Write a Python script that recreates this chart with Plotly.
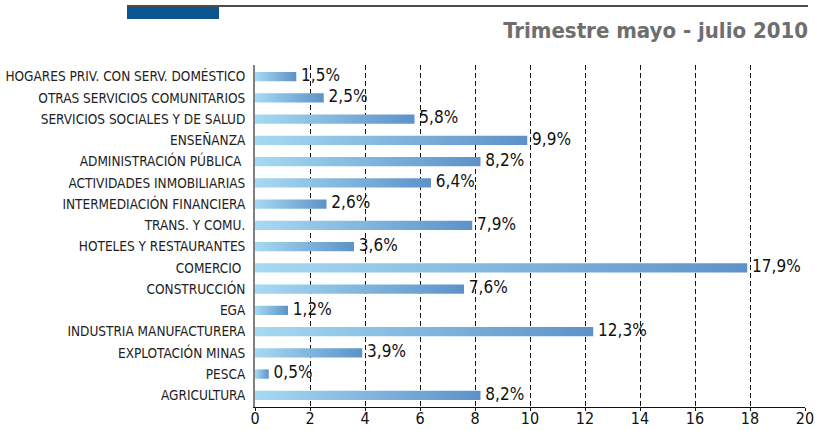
import plotly.graph_objects as go

categories = [
    "HOGARES PRIV. CON SERV. DOMÉSTICO",
    "OTRAS SERVICIOS COMUNITARIOS",
    "SERVICIOS SOCIALES Y DE SALUD",
    "ENSEÑANZA",
    "ADMINISTRACIÓN PÚBLICA\u00a0",
    "ACTIVIDADES INMOBILIARIAS",
    "INTERMEDIACIÓN FINANCIERA",
    "TRANS. Y COMU.",
    "HOTELES Y RESTAURANTES",
    "COMERCIO\u00a0",
    "CONSTRUCCIÓN",
    "EGA",
    "INDUSTRIA MANUFACTURERA",
    "EXPLOTACIÓN MINAS",
    "PESCA",
    "AGRICULTURA",
]
values = [1.5, 2.5, 5.8, 9.9, 8.2, 6.4, 2.6, 7.9, 3.6, 17.9, 7.6, 1.2, 12.3, 3.9, 0.5, 8.2]
x_ticks = [0, 2, 4, 6, 8, 10, 12, 14, 16, 18, 20]
title_text = "Trimestre mayo - julio 2010"

FONT = "DejaVu Sans Condensed, Liberation Sans Narrow, sans-serif"
n = len(categories)
ypos = [n - 1 - i for i in range(n)]
half = 0.22

fig = go.Figure()
for v, y in zip(values, ypos):
    fig.add_trace(go.Scatter(
        x=[0, v, v, 0, 0],
        y=[y - half, y - half, y + half, y + half, y - half],
        mode="lines",
        line=dict(width=0),
        fill="toself",
        fillgradient=dict(type="horizontal",
                          colorscale=[[0, "#a6daf2"], [1, "#5d92c9"]]),
        hoverinfo="skip",
        showlegend=False,
    ))

labels = ["\u00a0" + f"{v:.1f}".replace(".", ",") + "%" for v in values]
fig.add_trace(go.Scatter(
    x=values, y=ypos, mode="text", text=labels,
    textposition="middle right",
    textfont=dict(family=FONT, size=17, color="#111111"),
    showlegend=False, hoverinfo="skip", cliponaxis=False,
))

fig.update_layout(
    width=815, height=430,
    margin=dict(l=255, r=10, t=65, b=23, autoexpand=False),
    paper_bgcolor="white", plot_bgcolor="white",
    title=dict(text=f"<b>{title_text}</b>", x=808 / 815, xanchor="right",
               y=1 - 30 / 430, yanchor="middle",
               font=dict(family=FONT, size=22, color="#6e6e6e")),
    xaxis=dict(range=[0, 20], tickvals=x_ticks, ticktext=[str(t) for t in x_ticks],
               showgrid=True, gridcolor="#111111", gridwidth=1, griddash="5px,3px",
               showline=True, linecolor="#111111", linewidth=1,
               ticks="outside", ticklen=3, tickcolor="#111111",
               ticklabelstandoff=-6,
               tickfont=dict(family=FONT, size=16, color="#111111"),
               zeroline=False, fixedrange=True, automargin=False),
    yaxis=dict(range=[-0.55, n - 0.45], tickvals=ypos, ticktext=categories,
               showgrid=False, zeroline=False,
               showline=True, linecolor="#808080", linewidth=2,
               ticks="", ticklabelstandoff=5,
               tickfont=dict(family=FONT, size=13.5, color="#222222"),
               fixedrange=True, automargin=False),
    shapes=[
        dict(type="line", xref="paper", yref="paper",
             x0=(127 - 255) / 550, x1=(808 - 255) / 550,
             y0=(407 - 6) / 342, y1=(407 - 6) / 342,
             line=dict(color="#111111", width=1.5)),
        dict(type="rect", xref="paper", yref="paper",
             x0=(127 - 255) / 550, x1=(219 - 255) / 550,
             y0=(407 - 19) / 342, y1=(407 - 7) / 342,
             fillcolor="#0a5590", line=dict(width=0)),
    ],
)

fig.write_html("out.html", config={"displayModeBar": False},
               post_script="document.body.style.margin='0';document.body.style.overflow='hidden';")
